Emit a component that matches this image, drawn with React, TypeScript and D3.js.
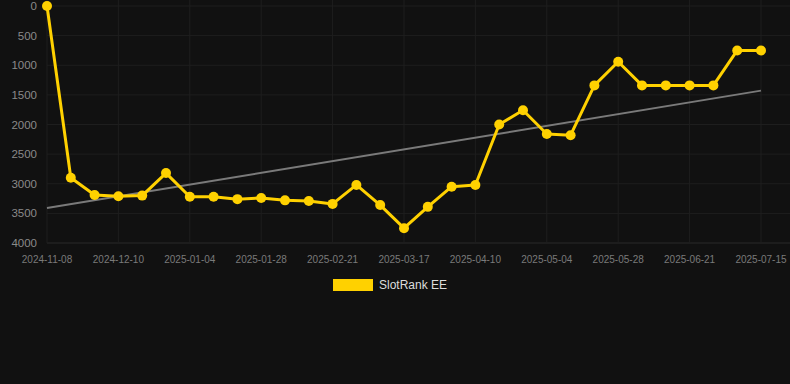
import React from "react";
import * as d3 from "d3";

const dates = [
  "2024-11-08", "2024-11-16", "2024-11-24", "2024-12-10", "2024-12-18", "2024-12-26",
  "2025-01-04", "2025-01-12", "2025-01-20", "2025-01-28", "2025-02-05", "2025-02-13",
  "2025-02-21", "2025-03-01", "2025-03-09", "2025-03-17", "2025-03-25", "2025-04-02",
  "2025-04-10", "2025-04-18", "2025-04-26", "2025-05-04", "2025-05-12", "2025-05-20",
  "2025-05-28", "2025-06-05", "2025-06-13", "2025-06-21", "2025-06-29", "2025-07-07",
  "2025-07-15",
];
const ranks = [
  0, 2900, 3190, 3210, 3200, 2820, 3220, 3220, 3260, 3240, 3280, 3290, 3340, 3020, 3360,
  3750, 3390, 3050, 3020, 2000, 1760, 2160, 2180, 1340, 940, 1340, 1340, 1340, 1340, 750, 750,
];
const yTicks = [0, 500, 1000, 1500, 2000, 2500, 3000, 3500, 4000];
const seriesName = "SlotRank EE";

const W = 790;
const H = 384;
const left = 47;
const right = 761;
const top = 6;
const bottom = 243;

export default function App() {
  const x = d3.scalePoint<string>().domain(dates).range([left, right]);
  const y = d3.scaleLinear().domain([0, 4000]).range([top, bottom]);

  const line = d3
    .line<number>()
    .x((_, i) => x(dates[i]) as number)
    .y((d) => y(d));

  // linear regression trend
  const n = ranks.length;
  const xs = d3.range(n);
  const mx = d3.mean(xs) as number;
  const my = d3.mean(ranks) as number;
  let num = 0;
  let den = 0;
  xs.forEach((i) => {
    num += (i - mx) * (ranks[i] - my);
    den += (i - mx) * (i - mx);
  });
  const slope = num / den;
  const icpt = my - slope * mx;
  const t0 = icpt;
  const t1 = icpt + slope * (n - 1);

  const xTickIdx = xs.filter((i) => i % 3 === 0);
  const gridColor = "#1e1e1e";
  const yellow = "#FFD100";

  return (
    <svg
      width={W}
      height={H}
      style={{ position: "absolute", left: 0, top: 0, background: "#111111" }}
      fontFamily="Arial, 'Liberation Sans', sans-serif"
    >
      <rect x={0} y={0} width={W} height={H} fill="#111111" />
      {yTicks.map((t) => (
        <g key={t}>
          <line
            x1={left}
            x2={W}
            y1={y(t)}
            y2={y(t)}
            stroke={t === 4000 ? "#2a2a2a" : gridColor}
            strokeWidth={1}
          />
          <text x={37} y={y(t)} dy="0.35em" textAnchor="end" fill="#8a8a8a" fontSize={11.5}>
            {t}
          </text>
        </g>
      ))}
      {xTickIdx.map((i) => (
        <g key={i}>
          <line
            x1={x(dates[i]) as number}
            x2={x(dates[i]) as number}
            y1={0}
            y2={bottom}
            stroke={gridColor}
            strokeWidth={1}
          />
          <text
            x={x(dates[i]) as number}
            y={259}
            dy="0.35em"
            textAnchor="middle"
            fill="#7a7a7a"
            fontSize={10}
          >
            {dates[i]}
          </text>
        </g>
      ))}
      <line
        x1={x(dates[0]) as number}
        x2={x(dates[n - 1]) as number}
        y1={y(t0)}
        y2={y(t1)}
        stroke="#7a7a7a"
        strokeWidth={2}
      />
      <path d={line(ranks) || ""} fill="none" stroke={yellow} strokeWidth={3} strokeLinejoin="round" />
      {ranks.map((v, i) => (
        <circle key={i} cx={x(dates[i]) as number} cy={y(v)} r={5} fill={yellow} />
      ))}
      <rect x={333} y={279} width={40} height={12} fill={yellow} />
      <text x={379} y={285} dy="0.35em" fill="#dddddd" fontSize={12}>
        {seriesName}
      </text>
    </svg>
  );
}
